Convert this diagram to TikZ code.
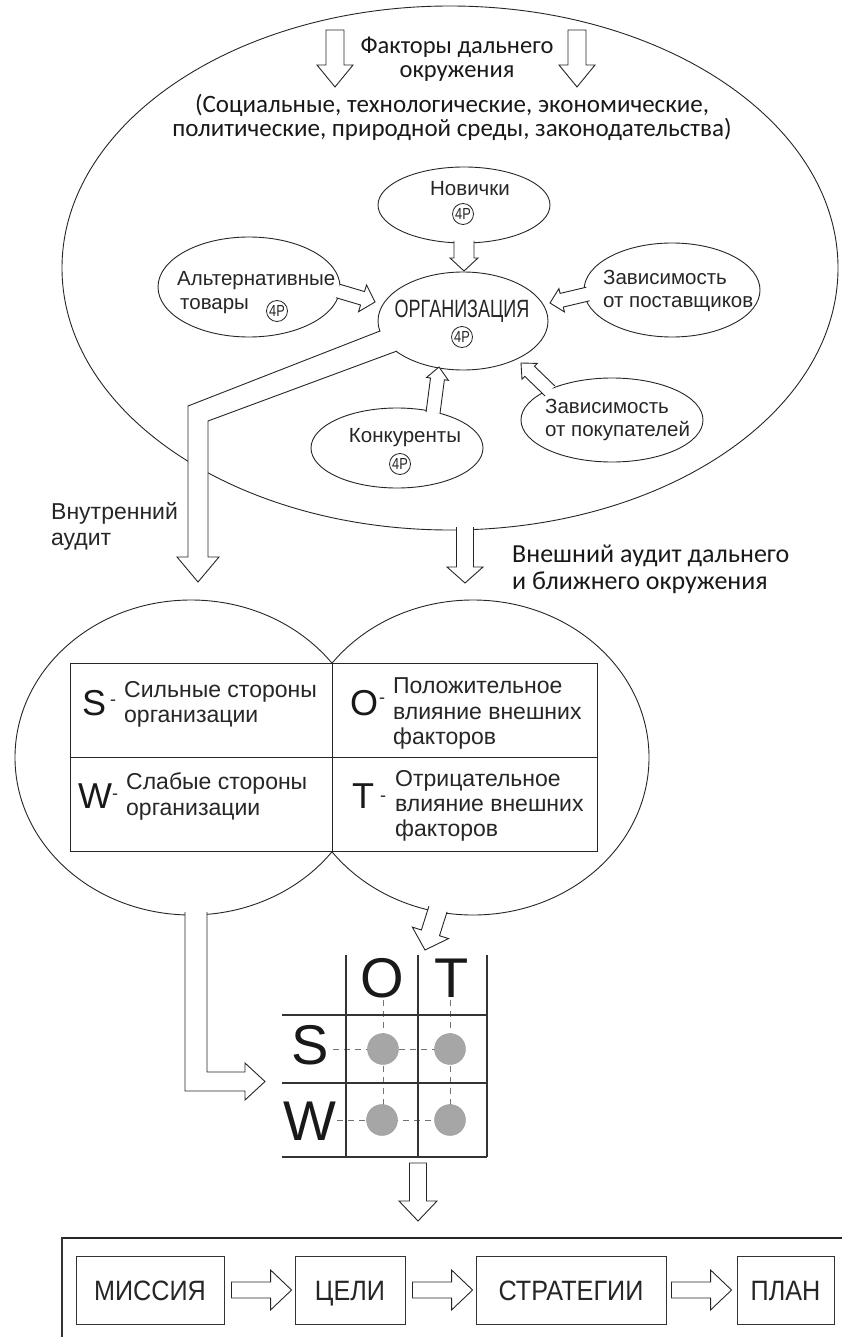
\documentclass[tikz,border=0pt]{standalone}
\usepackage{fontspec}
\setmainfont{Liberation Sans}
\newfontfamily\arialf{Liberation Sans}
\newfontfamily\narrowf[FakeStretch=0.72]{Liberation Sans}
\newfontfamily\smallnarrowf[FakeStretch=0.8]{Liberation Sans}
\newfontfamily\stagefont[FakeStretch=0.9]{Liberation Sans}
\newfontfamily\califont{Carlito}
\usetikzlibrary{shapes.geometric,calc}

\tikzset{
  ink/.style={draw=black!85, line width=0.9pt},
  oval/.style={ellipse, ink, inner sep=0pt, outer sep=0pt},
  fourp/.style={circle, draw=black!85, line width=0.8pt, minimum size=21pt, inner sep=0pt,
    font=\smallnarrowf\fontsize{16}{16}\selectfont, text=black!85},
  blockarrow/.style={draw=black!85, line width=0.9pt, fill=white, line join=miter},
  lbl/.style={inner sep=0pt, text=black!85, font=\arialf\fontsize{20.5}{24}\selectfont},
  toplbl/.style={inner sep=0pt, text=black!90, font=\califont\fontsize{25}{25}\selectfont},
  celltext/.style={inner sep=0pt, anchor=base west, text=black!85, font=\arialf\fontsize{23}{23}\selectfont},
  swotletter/.style={inner sep=0pt, anchor=base west, text=black!90, font=\arialf\fontsize{36}{36}\selectfont},
  swotdash/.style={inner sep=0pt, anchor=base west, text=black!85, font=\arialf\fontsize{18}{18}\selectfont},
  gridletter/.style={inner sep=0pt, anchor=base, text=black!90, font=\arialf\fontsize{56}{56}\selectfont},
  gridline/.style={draw=black!80, line width=1.5pt},
  guide/.style={draw=black!55, line width=0.9pt, dash pattern=on 6pt off 5pt},
  dot/.style={circle, fill=black!35, draw=black!40, line width=0.4pt, minimum size=31pt, inner sep=0pt},
  stagebox/.style={draw=black!80, line width=0.9pt, inner sep=0pt, minimum height=68pt,
    text height=20pt, text depth=0pt, font=\stagefont\fontsize{28}{28}\selectfont, text=black!85},
}

% hollow block arrow: tail, tip, shaft half width, head half width, head length, path end
\newcommand\hollowarrow[6]{%
  \coordinate (ha-h) at ($(#2)!#5!(#1)$);
  \draw[blockarrow] ($(#1)!#3!90:(#2)$) -- ($(ha-h)!#3!-90:(#1)$) -- ($(ha-h)!#4!-90:(#1)$)
    -- (#2) -- ($(ha-h)!#4!90:(#1)$) -- ($(ha-h)!#3!90:(#1)$) -- ($(#1)!#3!-90:(#2)$) #6;
}

\begin{document}
\begin{tikzpicture}[x=1pt,y=-1pt]
\fill[white] (0,0) rectangle (841,1337);
\useasboundingbox (0,0) rectangle (841,1337);

% ---------- environment ----------
\node[oval, minimum width=776pt, minimum height=524pt] (env) at (450,268) {};

\node[toplbl, align=center, anchor=north, font=\califont\fontsize{24.5}{23.5}\selectfont] (far) at (457,37)
  {Факторы дальнего\\окружения};
\node[toplbl, anchor=base] (far3) at (452,113) {(Социальные, технологические, экономические,};
\node[toplbl, anchor=base] (far4) at (452,137) {политические, природной среды, законодательства)};

\coordinate (fl0) at (335,30); \coordinate (fl1) at (335,87);
\coordinate (fr0) at (577,30); \coordinate (fr1) at (577,87);
\hollowarrow{fl0}{fl1}{9pt}{18pt}{22pt}{-- cycle}
\hollowarrow{fr0}{fr1}{9pt}{18pt}{22pt}{-- cycle}

% ---------- forces around the organisation ----------
\node[oval, minimum width=172pt, minimum height=76pt] (nov) at (464,205) {};
\node[oval, minimum width=170pt, minimum height=98pt] (org) at (463,321) {};
\node[oval, minimum width=182pt, minimum height=100pt] (alt) at (249,287) {};
\node[oval, minimum width=176pt, minimum height=94pt] (sup) at (672,290) {};
\node[oval, minimum width=182pt, minimum height=84pt] (cus) at (612,420) {};
\node[oval, minimum width=172pt, minimum height=80pt] (con) at (397,448) {};

\node[lbl, anchor=base] (novt) at (470,196) {Новички};
\node[fourp] (novp) at (463,214) {4P};

\node[inner sep=0pt, anchor=base, text=black!85, font=\narrowf\fontsize{25}{25}\selectfont] (orgt) at (462,317) {ОРГАНИЗАЦИЯ};
\node[fourp] (orgp) at (462,337) {4P};

\node[lbl, anchor=base west] (altt1) at (177,286) {Альтернативные};
\node[lbl, anchor=base west] (altt2) at (180,309) {товары};
\node[fourp] (altp) at (277,311) {4P};

\node[lbl, anchor=base west] (supt1) at (603,285) {Зависимость};
\node[lbl, anchor=base west] (supt2) at (603,308) {от поставщиков};

\node[lbl, anchor=base west] (cust1) at (545,413) {Зависимость};
\node[lbl, anchor=base west] (cust2) at (545,436) {от покупателей};

\node[lbl, anchor=base] (cont) at (405,442) {Конкуренты};
\node[fourp] (conp) at (400,464) {4P};

\coordinate (a-nov0) at (464,241); \coordinate (a-nov1) at (464,271);
\hollowarrow{a-nov0}{a-nov1}{10pt}{14pt}{13pt}{}
\coordinate (a-alt0) at (338,291); \coordinate (a-alt1) at (375,302);
\hollowarrow{a-alt0}{a-alt1}{7pt}{14pt}{13pt}{}
\coordinate (a-sup0) at (588,294); \coordinate (a-sup1) at (550,303);
\hollowarrow{a-sup0}{a-sup1}{7pt}{12pt}{12pt}{}
\coordinate (a-con0) at (433,413); \coordinate (a-con1) at (439,367);
\hollowarrow{a-con0}{a-con1}{7pt}{11pt}{12pt}{}
\coordinate (a-cus0) at (550,391); \coordinate (a-cus1) at (521,363);
\hollowarrow{a-cus0}{a-cus1}{7pt}{11pt}{12pt}{}

% ---------- internal audit ----------
\draw[blockarrow] (380,331) -- (188,406) -- (188,557) -- (177,557) -- (198,582)
  -- (219,557) -- (208,557) -- (208,421) -- (397,351);
\node[lbl, anchor=base west, font=\arialf\fontsize{23}{23}\selectfont] (ia1) at (51,519) {Внутренний};
\node[lbl, anchor=base west, font=\arialf\fontsize{23}{23}\selectfont] (ia2) at (51,545) {аудит};

% ---------- external audit ----------
\coordinate (ea0) at (465,527); \coordinate (ea1) at (465,583);
\hollowarrow{ea0}{ea1}{8.5pt}{18pt}{16pt}{}
\node[toplbl, anchor=base west, font=\califont\fontsize{26}{26}\selectfont] (ea2) at (512,562) {Внешний аудит дальнего};
\node[toplbl, anchor=base west, font=\califont\fontsize{26}{26}\selectfont] (ea3) at (512,589) {и ближнего окружения};

% ---------- SWOT ----------
\node[oval, minimum width=352pt, minimum height=315pt] (sw) at (191,757.5) {};
\node[oval, minimum width=352pt, minimum height=315pt] (ot) at (473,757.5) {};
\fill[white] (70,663) rectangle (597,851);
\draw[ink] (70,663) rectangle (597,851);
\draw[ink] (332,663) -- (332,851);
\draw[ink] (70,757) -- (597,757);

\node[swotletter] (ls) at (82,715) {S};
\node[swotdash] at (110,705) {-};
\node[celltext] at (124,697) {Сильные стороны};
\node[celltext] at (124,722) {организации};

\node[swotletter] (lo) at (350,715) {O};
\node[swotdash] at (379,703) {-};
\node[celltext] at (393,693) {Положительное};
\node[celltext] at (393,719) {влияние внешних};
\node[celltext] at (393,744) {факторов};

\node[swotletter] (lw) at (78,808) {W};
\node[swotdash] at (112,799) {-};
\node[celltext] at (126,789) {Слабые стороны};
\node[celltext] at (126,815) {организации};

\node[swotletter] (lt) at (352,808) {T};
\node[swotdash] at (380,801) {-};
\node[celltext] at (395,786) {Отрицательное};
\node[celltext] at (395,811) {влияние внешних};
\node[celltext] at (395,836) {факторов};

% arrows from the two halves to the matrix
\draw[blockarrow] (185,912) -- (185,1091) -- (245,1091) -- (245,1100) -- (265,1081.5)
  -- (245,1063) -- (245,1072) -- (207,1072) -- (207,912);
\coordinate (ra0) at (438,909); \coordinate (ra1) at (425,950);
\hollowarrow{ra0}{ra1}{9.5pt}{19pt}{18pt}{}

% ---------- SWOT matrix ----------
\draw[guide] (333,1049) -- (450,1049);
\draw[guide] (337,1120) -- (450,1120);
\draw[guide] (383,1000) -- (383,1120);
\draw[guide] (450,1000) -- (450,1120);
\draw[gridline] (346,955) -- (346,1157);
\draw[gridline] (418,955) -- (418,1157);
\draw[gridline] (487,955) -- (487,1157);
\draw[gridline] (282,1015) -- (487,1015);
\draw[gridline] (282,1083) -- (487,1083);
\draw[gridline] (282,1157) -- (487,1157);
\node[gridletter] (go) at (382,997) {O};
\node[gridletter] (gt) at (452,997) {T};
\node[gridletter] (gs) at (310,1064) {S};
\node[gridletter] (gw) at (310,1140) {W};
\node[dot] (so) at (383,1049) {};
\node[dot] (st) at (450,1049) {};
\node[dot] (wo) at (382,1120) {};
\node[dot] (wt) at (450,1120) {};

% ---------- planning chain ----------
\coordinate (pa0) at (418,1163); \coordinate (pa1) at (418,1221);
\hollowarrow{pa0}{pa1}{8.5pt}{19pt}{20pt}{-- cycle}
\draw[draw=black!85, line width=2.2pt] (62,1238) -- (845,1238);
\draw[draw=black!80, line width=1.2pt] (62,1237) -- (62,1340);

\node[stagebox, minimum width=148pt] (mis) at (150,1290) {МИССИЯ};
\node[stagebox, minimum width=110pt] (goal) at (350,1290) {ЦЕЛИ};
\node[stagebox, minimum width=190pt] (strat) at (571,1290) {СТРАТЕГИИ};
\node[stagebox, minimum width=97pt] (plan) at (785.5,1290) {ПЛАН};

\coordinate (b1a) at ($(mis.east)+(7,0)$);   \coordinate (b1b) at ($(goal.west)+(-3,0)$);
\coordinate (b2a) at ($(goal.east)+(7,0)$);  \coordinate (b2b) at ($(strat.west)+(-3,0)$);
\coordinate (b3a) at ($(strat.east)+(5,0)$); \coordinate (b3b) at ($(plan.west)+(-5,0)$);
\hollowarrow{b1a}{b1b}{8pt}{20pt}{21pt}{-- cycle}
\hollowarrow{b2a}{b2b}{8pt}{20pt}{21pt}{-- cycle}
\hollowarrow{b3a}{b3b}{8pt}{20pt}{21pt}{-- cycle}
\end{tikzpicture}
\end{document}
